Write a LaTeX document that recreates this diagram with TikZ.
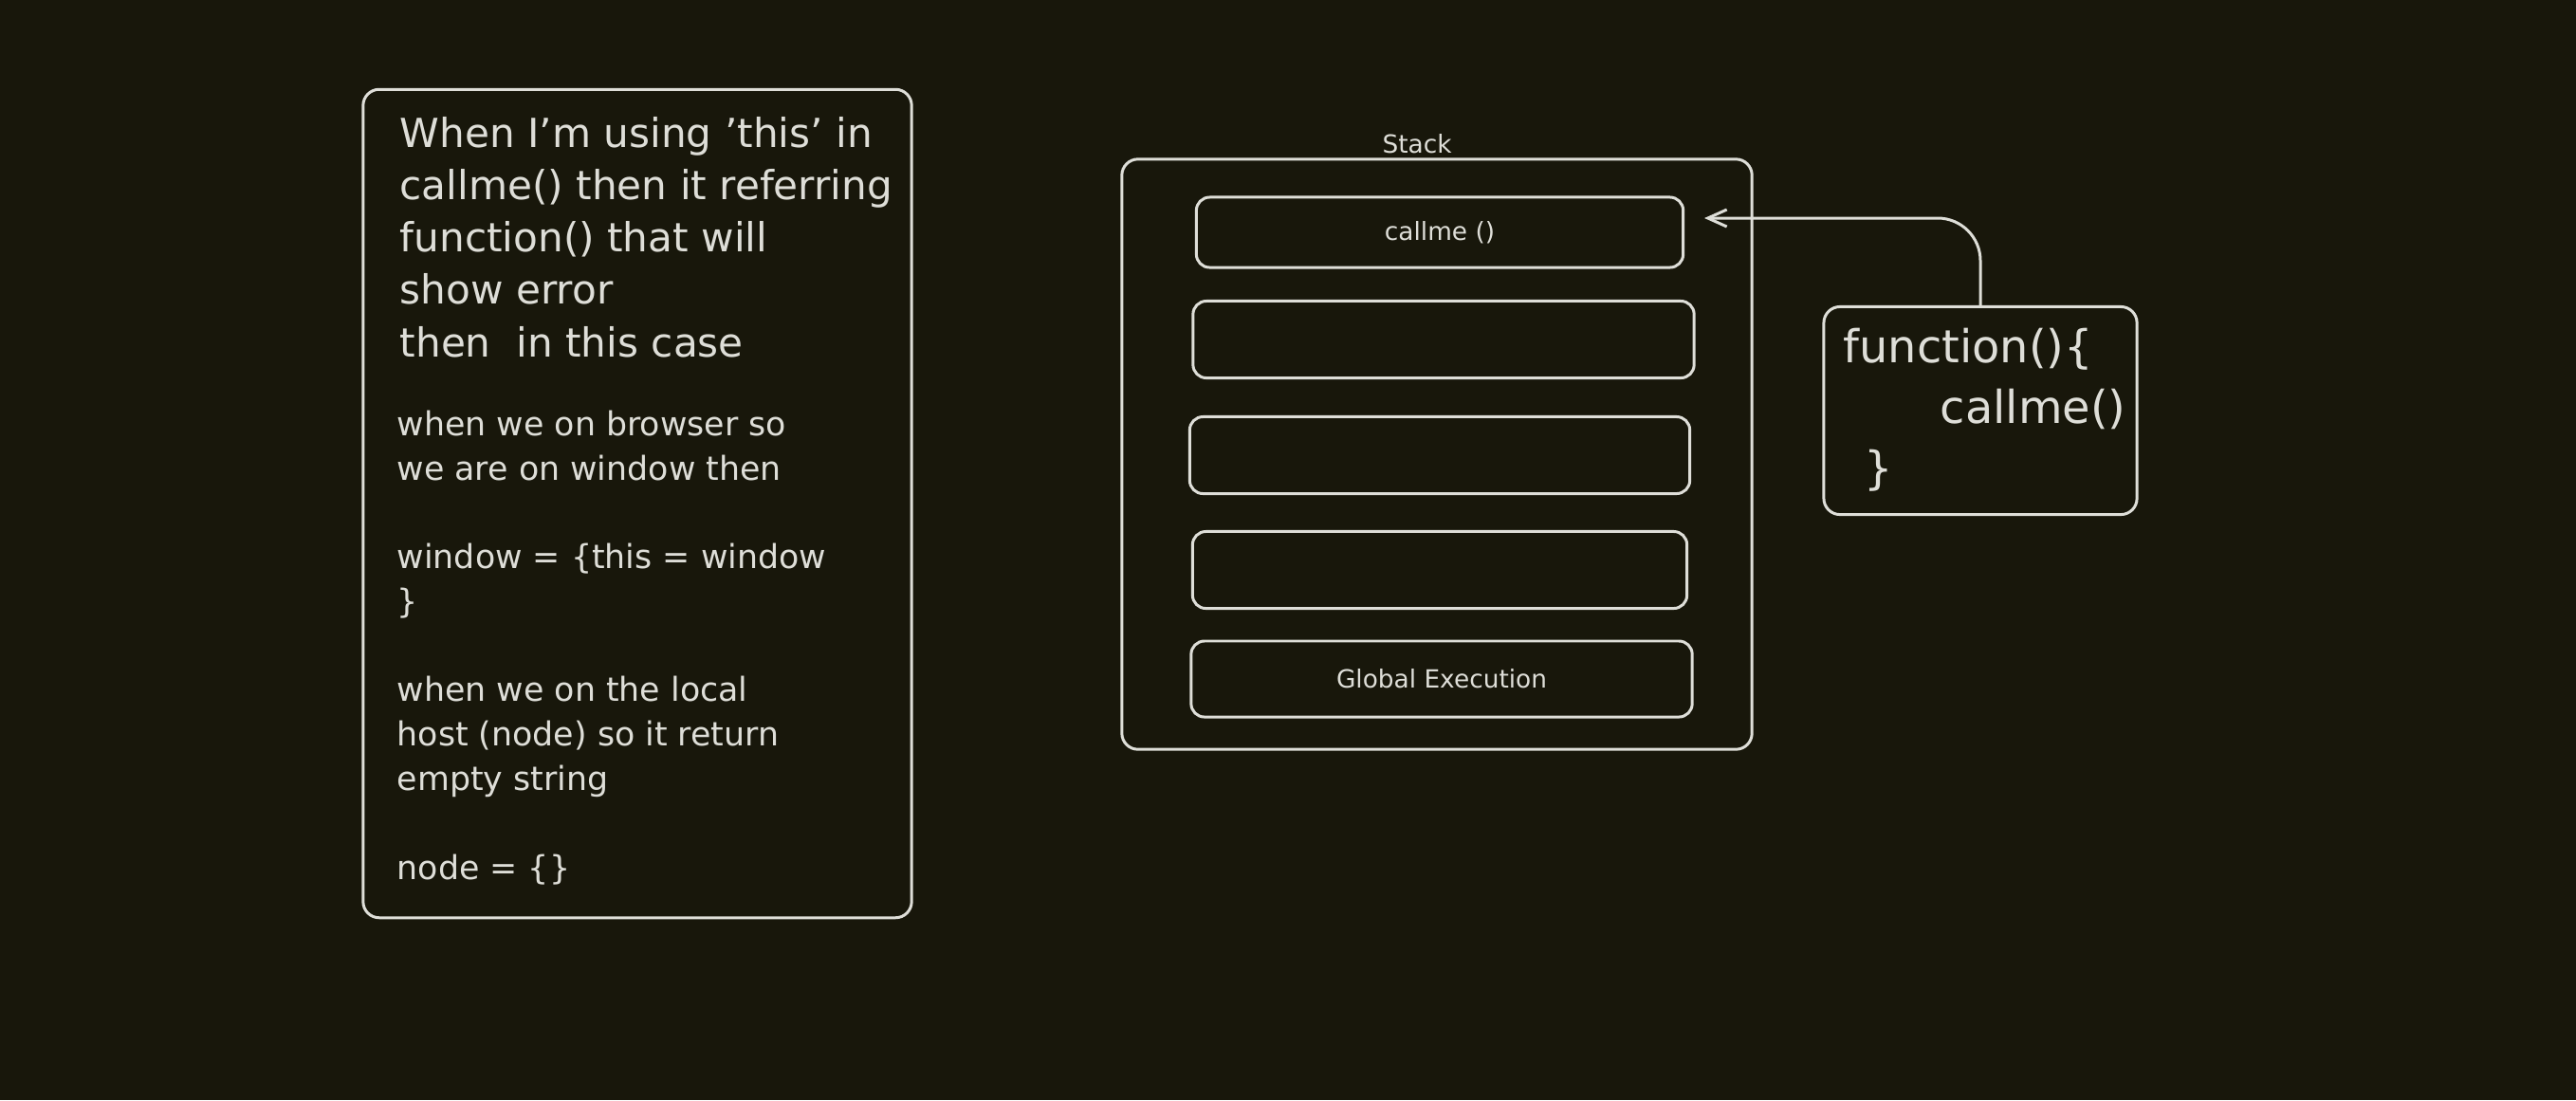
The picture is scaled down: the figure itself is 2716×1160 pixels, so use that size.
\documentclass[tikz,border=0pt]{standalone}
\usepackage{fontspec}
\setmainfont{DejaVu Sans}
\usepackage{xcolor}
\usetikzlibrary{arrows.meta,positioning}
\definecolor{boardbg}{RGB}{24,23,11}
\definecolor{chalk}{RGB}{222,222,216}

\begin{document}
\begin{tikzpicture}[x=0.01cm, y=-0.01cm, >={Straight Barb[length=2mm,width=1.8mm]},
  every node/.style={text=chalk},
  panel/.style={draw=chalk, line width=0.85pt, rounded corners=0.17cm},
  slot/.style={panel, rounded corners=0.14cm, font=\fontsize{7.5}{9}\selectfont},
  note/.style={align=left, anchor=base west, inner sep=0pt}]
  \useasboundingbox (0,0) rectangle (2716,1160);
  \fill[boardbg] (0,0) rectangle (2716,1160);

  % Notes on the left (anchored on the last baseline)
  \node[panel, minimum width=5.78cm, minimum height=8.73cm] (notes) at (672,531) {};
  \node[note, font=\fontsize{12}{15.65}\selectfont] (whythis) at (421,376)
    {When I'm using 'this' in\\callme() then it referring\\function() that will\\show error\\then~~in this case};
  \node[note, font=\fontsize{9.9}{13.3}\selectfont] (envs) at (418,927)
    {when we on browser so\\we are on window then\\[13.3pt]window = \{this = window\\\}\\[13.3pt]when we on the local\\host (node) so it return\\empty string\\[13.3pt]node = \{\}};

  % Stack
  \node[panel, minimum width=6.64cm, minimum height=6.22cm] (stack) at (1515,479) {};
  \node[font=\fontsize{7.5}{9}\selectfont, anchor=base] (stacklbl) at (1494,161) {Stack};
  \node[slot, minimum width=5.13cm, minimum height=0.74cm] (callme) at (1518,245) {callme ()};
  \node[slot, minimum width=5.28cm, minimum height=0.81cm] (slot2) at (1522,358) {};
  \node[slot, minimum width=5.27cm, minimum height=0.81cm] (slot3) at (1518,480) {};
  \node[slot, minimum width=5.21cm, minimum height=0.81cm] (slot4) at (1518,601) {};
  \node[slot, minimum width=5.28cm, minimum height=0.80cm] (global) at (1520,716) {Global Execution};

  % Caller
  \node[panel, minimum width=3.30cm, minimum height=2.19cm] (fn) at (2088,433) {};
  \node[note, font=\fontsize{13.6}{18.2}\selectfont] (fncode) at (1943,510)
    {function()\{\\\hspace{1.02cm}callme()\\\hspace{0.22cm}\}};

  % Arrow
  \coordinate (tip) at (1797,230);
  \draw[->, draw=chalk, line width=0.85pt, rounded corners=0.45cm] (fn.north) |- (tip);
\end{tikzpicture}
\end{document}
